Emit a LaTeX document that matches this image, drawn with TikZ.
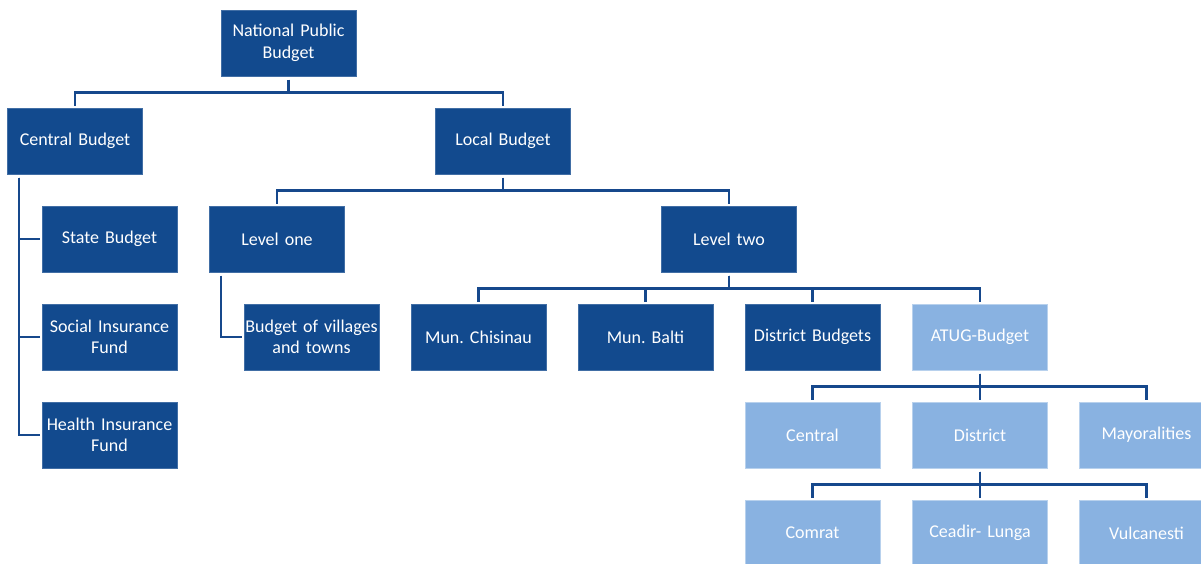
\documentclass[tikz,border=0pt]{standalone}
\usepackage{fontspec}
\setmainfont{Carlito}
\frenchspacing
\definecolor{dkblue}{RGB}{18,74,142}
\definecolor{ltblue}{RGB}{137,178,225}
\definecolor{lnblue}{RGB}{22,72,140}
\tikzset{
  box/.style={rectangle, minimum width=135pt, minimum height=66pt, inner sep=0pt,
    align=center, text width=135pt, text=white, font=\fontsize{18}{21.5}\selectfont,
    line width=1pt},
  dk/.style={box, fill=dkblue, draw=dkblue!80!white},
  lt/.style={box, fill=ltblue, draw=ltblue!60!white},
  conn/.style={draw=lnblue, line width=2.5pt, shorten <=3pt, shorten >=2pt}
}
\begin{document}
\begin{tikzpicture}[x=1pt,y=-1pt]
\useasboundingbox (0,0) rectangle (1201,563);
\node[dk] (npb) at (288.5,43) {National Public\\Budget};
\node[dk] (cb) at (75,141) {Central Budget};
\node[dk] (lb) at (503,141) {Local Budget};
\node[dk] (sb) at (109.5,239) {State Budget};
\node[dk] (sif) at (109.5,337) {Social Insurance\\Fund};
\node[dk] (hif) at (109.5,435) {Health Insurance\\Fund};
\node[dk] (l1) at (277,239) {Level one};
\node[dk] (l2) at (729,239) {Level two};
\node[dk] (bvt) at (311.5,337) {Budget of villages\\and towns};
\node[dk] (chi) at (478.5,337) {Mun. Chisinau};
\node[dk] (bal) at (645.5,337) {Mun. Balti};
\node[dk] (dis) at (812.5,337) {District Budgets};
\node[lt] (atug) at (980,337) {ATUG-Budget};
\node[lt] (cen) at (812.5,435) {Central};
\node[lt] (dst) at (980,435) {District};
\node[lt] (may) at (1146.5,435) {Mayoralities};
\node[lt] (com) at (812.5,533) {Comrat};
\node[lt] (cea) at (980,533) {Ceadir- Lunga};
\node[lt] (vul) at (1146.5,533) {Vulcanesti};
% connectors
\draw[conn] (npb.south) -- ++(0,16) -| (cb.north);
\draw[conn, shorten <=0pt] (npb.south) ++(0,16) -| (lb.north);
\draw[conn] (lb.south) -- ++(0,16) -| (l1.north);
\draw[conn, shorten <=0pt] (lb.south) ++(0,16) -| (l2.north);
\draw[conn] ([xshift=12pt]cb.south west) |- (sb.west);
\draw[conn] ([xshift=12pt]cb.south west) |- (sif.west);
\draw[conn] ([xshift=12pt]cb.south west) |- (hif.west);
\draw[conn] ([xshift=12pt]l1.south west) |- (bvt.west);
\foreach \t in {chi,bal,dis,atug}{
  \draw[conn] (l2.south) -- ++(0,16) -| (\t.north);
}
\foreach \t in {cen,dst,may}{
  \draw[conn] (atug.south) -- ++(0,16) -| (\t.north);
}
\foreach \t in {com,cea,vul}{
  \draw[conn] (dst.south) -- ++(0,16) -| (\t.north);
}
\end{tikzpicture}
\end{document}
